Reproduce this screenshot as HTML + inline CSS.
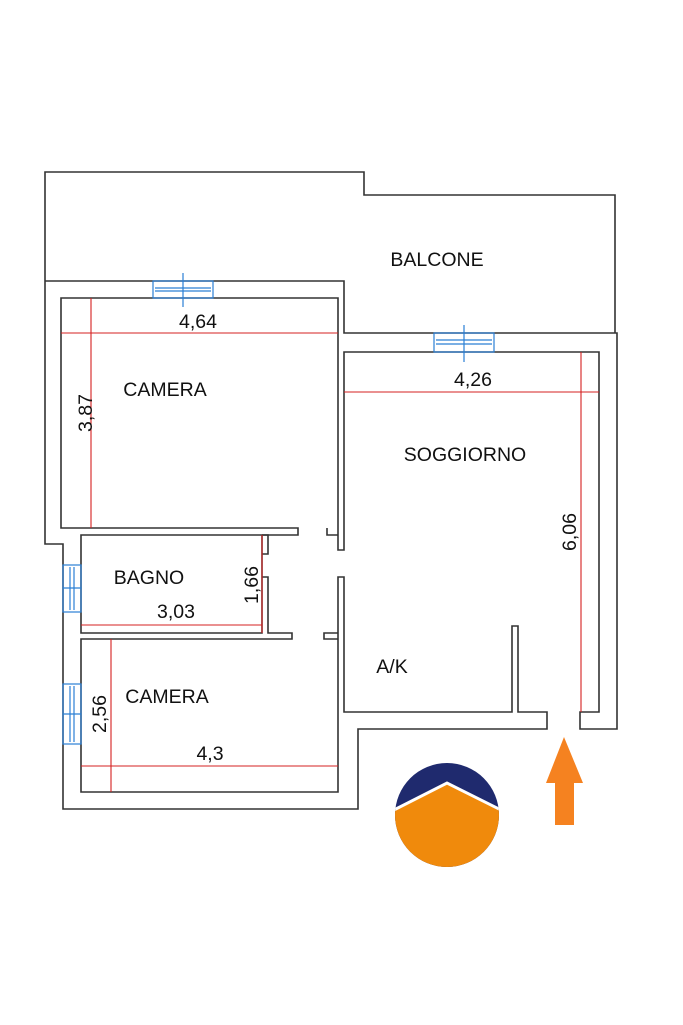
<!DOCTYPE html>
<html><head><meta charset="utf-8"><style>
html,body{margin:0;padding:0;background:#fff}
svg{display:block}
text{font-family:"Liberation Sans",Arial,sans-serif;fill:#111}
</style></head><body>
<svg width="683" height="1025" viewBox="0 0 683 1025" xmlns="http://www.w3.org/2000/svg">
<g fill="none" stroke="#333" stroke-width="1.6">
<polyline points="45,281 45,172 364,172 364,195 615,195 615,333"/>
<polyline points="45,281 344,281 344,333 617,333 617,729 580,729 580,712 599,712 599,352 344,352 344,550 338,550 338,298 61,298 61,528 298,528 298,535 81,535 81,633 262,633 262,535"/>
<polyline points="45,281 45,544 63,544 63,809 358,809 358,729 547,729 547,712 518,712 518,626 512,626 512,712 344,712 344,577 338,577 338,792 81,792 81,639 292,639 292,633 268,633 268,577 262,577"/>
<polyline points="262,554 268,554 268,535 262,535"/>
<polyline points="327,528 327,535 338,535"/>
<polyline points="338,639 324,639 324,633 338,633"/>
</g>
<g fill="none" stroke="#2a7fd4" stroke-width="1.2">
<rect x="153" y="281" width="60" height="17"/><line x1="155" y1="288" x2="211" y2="288"/><line x1="155" y1="291" x2="211" y2="291"/><line x1="183" y1="273" x2="183" y2="307"/>
<rect x="434" y="333" width="60" height="19"/><line x1="436" y1="340" x2="492" y2="340"/><line x1="436" y1="344" x2="492" y2="344"/><line x1="464" y1="325" x2="464" y2="362"/>
<rect x="63" y="565" width="18" height="47"/><line x1="70" y1="567" x2="70" y2="610"/><line x1="74" y1="567" x2="74" y2="610"/><line x1="63" y1="588" x2="81" y2="588"/>
<rect x="63" y="684" width="18" height="60"/><line x1="70" y1="686" x2="70" y2="742"/><line x1="74" y1="686" x2="74" y2="742"/><line x1="63" y1="714" x2="81" y2="714"/>
</g>
<g stroke="#d42020" stroke-width="1.1">
<line x1="61" y1="333" x2="338" y2="333"/><line x1="91" y1="298" x2="91" y2="528"/>
<line x1="344" y1="392" x2="599" y2="392"/><line x1="581" y1="352" x2="581" y2="712"/>
<line x1="81" y1="625" x2="262" y2="625"/><line x1="262" y1="535" x2="262" y2="633"/>
<line x1="81" y1="766" x2="338" y2="766"/><line x1="111" y1="639" x2="111" y2="792"/>
</g>
<g font-size="19.5">
<text x="198" y="328" text-anchor="middle">4,64</text>
<text transform="translate(92,413) rotate(-90)" text-anchor="middle">3,87</text>
<text x="473" y="386" text-anchor="middle">4,26</text>
<text transform="translate(576,532) rotate(-90)" text-anchor="middle">6,06</text>
<text x="176" y="618" text-anchor="middle">3,03</text>
<text transform="translate(258,585) rotate(-90)" text-anchor="middle">1,66</text>
<text transform="translate(106,714) rotate(-90)" text-anchor="middle">2,56</text>
<text x="210" y="760" text-anchor="middle">4,3</text>
<text x="437" y="266" text-anchor="middle">BALCONE</text>
<text x="165" y="396" text-anchor="middle">CAMERA</text>
<text x="465" y="461" text-anchor="middle">SOGGIORNO</text>
<text x="149" y="584" text-anchor="middle">BAGNO</text>
<text x="167" y="703" text-anchor="middle">CAMERA</text>
<text x="392" y="673" text-anchor="middle">A/K</text>
</g>
<defs><clipPath id="c"><circle cx="447" cy="815" r="52"/></clipPath></defs>
<g clip-path="url(#c)">
<rect x="390" y="760" width="115" height="115" fill="#1f2a6e"/>
<polygon points="390,812 447,783 505,812 505,875 390,875" fill="#f08a0c" stroke="#fff" stroke-width="3"/>
</g>
<polygon points="564,737 583,783 574,783 574,825 555,825 555,783 546,783" fill="#f58220"/>
</svg>
</body></html>
